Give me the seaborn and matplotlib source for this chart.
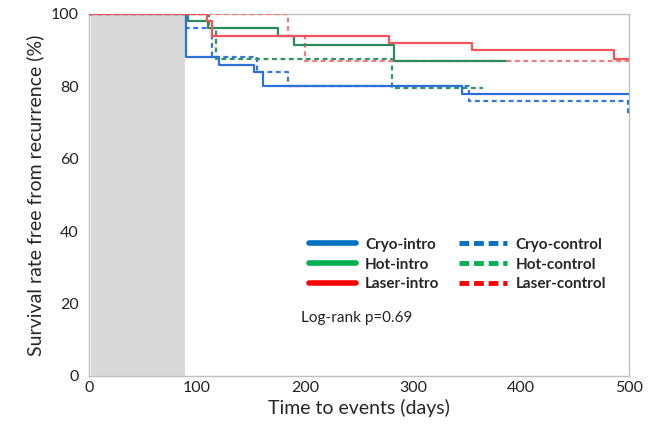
import numpy as np
import pandas as pd
import matplotlib
matplotlib.use("Agg")
import matplotlib.pyplot as plt
from matplotlib.lines import Line2D
from matplotlib.patches import Rectangle
import seaborn as sns

sns.set_style("white")
plt.rcParams['font.family'] = ['Lato', 'DejaVu Sans']

# Kaplan-Meier steps (time in days, survival %)
cryo_intro_t = [0, 90, 120, 153, 161, 345, 500]
cryo_intro_s = [100, 88, 86, 84, 80, 78, 78]
cryo_ctrl_t = [0, 90, 114, 156, 184, 352, 499, 500]
cryo_ctrl_s = [100, 96, 88, 84, 80, 76, 72, 72]
hot_intro_t = [0, 92, 110, 175, 190, 282, 386]
hot_intro_s = [100, 98, 96, 94, 91.5, 87, 87]
hot_ctrl_t = [0, 111, 118, 281, 365]
hot_ctrl_s = [100, 96, 87.5, 79.5, 79.5]
laser_intro_t = [0, 109, 114, 278, 355, 486, 500]
laser_intro_s = [100, 98, 94, 92, 90, 87.5, 87.5]
laser_ctrl_t = [0, 184, 200, 500]
laser_ctrl_s = [100, 94, 87, 87]

shade_end = 89  # grey shaded period (days)

groups = [
    ("Cryo-control", cryo_ctrl_t, cryo_ctrl_s, "#3577e0", "dash"),
    ("Hot-control", hot_ctrl_t, hot_ctrl_s, "#2f9462", "dash"),
    ("Laser-control", laser_ctrl_t, laser_ctrl_s, "#f47a82", "dash"),
    ("Cryo-intro", cryo_intro_t, cryo_intro_s, "#2f6fdb", "solid"),
    ("Hot-intro", hot_intro_t, hot_intro_s, "#2b8a5c", "solid"),
    ("Laser-intro", laser_intro_t, laser_intro_s, "#f2525c", "solid"),
]

fig = plt.figure(figsize=(6.57, 4.25), dpi=100)
ax = fig.add_axes([0.1355, 0.1153, 0.8219, 0.8518])

ax.add_patch(Rectangle((1.5, 0), shade_end - 1.5, 99.5, facecolor="#d9d9d9",
                       edgecolor="none", zorder=0))

for name, t, s, col, sty in groups:
    ls = (0, (2.2, 1.6)) if sty == "dash" else "-"
    sns.lineplot(x=t, y=s, ax=ax, drawstyle="steps-post", color=col,
                 linestyle=ls, linewidth=1.6, estimator=None, errorbar=None,
                 zorder=3)

ax.set_xlim(0, 500)
ax.set_ylim(0, 100)
ax.set_xticks(np.arange(0, 501, 100))
ax.set_xticks(np.arange(50, 501, 100), minor=True)
ax.set_yticks(np.arange(0, 101, 20))
ax.set_yticks(np.arange(10, 101, 20), minor=True)
ax.tick_params(axis="both", which="both", direction="out", length=4,
               color="#bfbfbf", labelsize=11.5, labelcolor="#222222")
ax.tick_params(axis="x", which="major", length=0)
for sp in ax.spines.values():
    sp.set_color("#bfbfbf")
    sp.set_linewidth(1)

ax.set_xlabel("Time to events (days)", fontsize=14, labelpad=3)
ax.set_ylabel("Survival rate free from recurrence (%)", fontsize=14, labelpad=5)

handles = [
    Line2D([], [], color="#0070c0", lw=4, label="Cryo-intro"),
    Line2D([], [], color="#00b050", lw=4, label="Hot-intro"),
    Line2D([], [], color="#ff0000", lw=4, label="Laser-intro"),
    Line2D([], [], color="#0070c0", lw=3.5, ls=(0, (2, 1)), label="Cryo-control"),
    Line2D([], [], color="#00b050", lw=3.5, ls=(0, (2, 1)), label="Hot-control"),
    Line2D([], [], color="#ff0000", lw=3.5, ls=(0, (2, 1)), label="Laser-control"),
]
leg = ax.legend(handles=handles, ncol=2, frameon=False, loc="upper left",
                bbox_to_anchor=(0.381, 0.42), handlelength=3.1,
                handletextpad=0.6, columnspacing=1.3, labelspacing=0.38,
                prop={"weight": "bold", "size": 11})

ax.text(0.393, 0.16, "Log-rank p=0.69", transform=ax.transAxes, fontsize=11,
        color="#222222", va="center", ha="left")

fig.savefig("out.png", dpi=100)
